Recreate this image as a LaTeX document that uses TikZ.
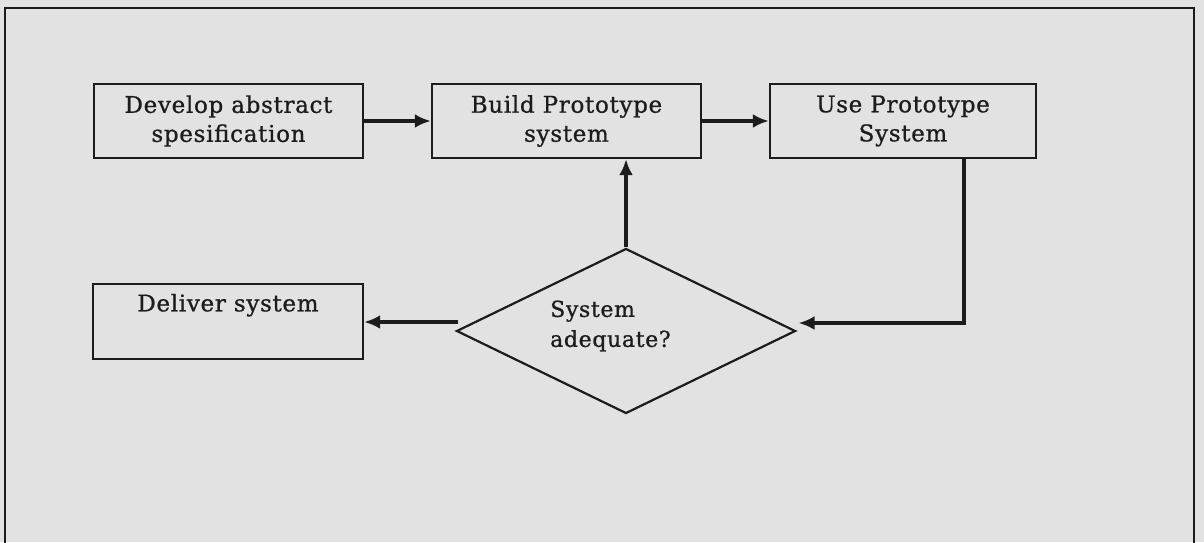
\documentclass[tikz,border=0pt]{standalone}
\usepackage{fontspec}
\setmainfont{DejaVu Serif}[LetterSpace=3, FakeBold=0.9]
\usetikzlibrary{shapes.geometric,arrows.meta}
\definecolor{paper}{RGB}{226,226,226}
\definecolor{ink}{RGB}{28,28,28}
\tikzset{
  procbox/.style={draw=ink, line width=2.4pt, minimum width=269pt, minimum height=74pt,
    inner sep=0pt, align=center, text=ink, font=\fontsize{23}{29}\selectfont},
  decision/.style={draw=ink, line width=2.2pt, diamond, minimum width=339pt, minimum height=165pt, inner sep=0pt},
  flow/.style={draw=ink, line width=3.2pt, -{Latex[length=16pt,width=14pt]}},
  frameline/.style={draw=ink, line width=2pt}
}
\begin{document}
\begin{tikzpicture}[x=1pt,y=-1pt]
\useasboundingbox (0,0) rectangle (1204,542);
\fill[paper] (0,0) rectangle (1204,542);
\begin{scope}
\clip (0,0) rectangle (1204,542);
\draw[frameline] (5,560) -- (5,8) -- (1194,8) -- (1194,560);
\end{scope}
\node[procbox] (dev) at (228.5,121) {Develop abstract\\spesification};
\node[procbox] (build) at (566.5,121) {Build Prototype\\system};
\node[procbox, minimum width=266pt] (use) at (903,121) {Use Prototype\\System};
\node[procbox, minimum width=270pt, minimum height=75pt] (deliver) at (228,321.5) {Deliver system\\\strut};
\node[decision] (dia) at (626,331) {};
\node[align=left, text=ink, font=\fontsize{22}{30}\selectfont, inner sep=0pt, anchor=west] (dtext) at (550,326) {System\\adequate?};
\coordinate (c1) at (964,323);
\coordinate (c2) at (458,322);
\draw[flow] (dev) -- (build);
\draw[flow] (build) -- (use);
\draw[flow] (use.south -| c1) |- ([xshift=2pt]c1 -| dia.east);
\draw[flow] (dia.north) -- (dia.north |- build.south);
\draw[flow] (c2) -- (c2 -| deliver.east);
\end{tikzpicture}
\end{document}
